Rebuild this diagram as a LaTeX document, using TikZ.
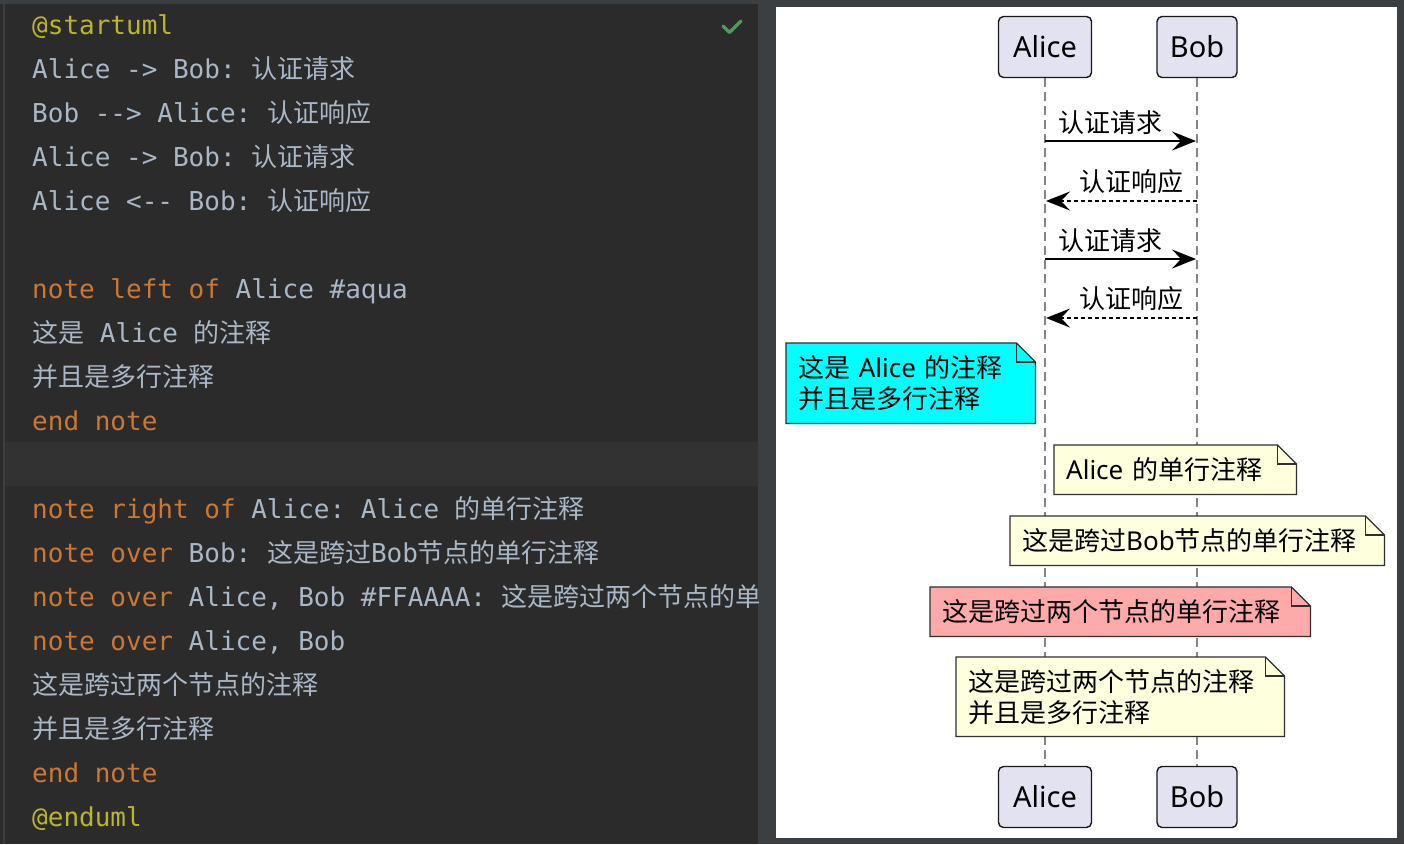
\documentclass[tikz,border=0pt]{standalone}
\usepackage{fontspec}
\newfontfamily\cjk{Noto Sans CJK SC}
\newfontfamily\dgfont{Noto Sans}
\newfontfamily\codefont{DejaVu Sans Mono}[Ligatures=TeXOff]
\usetikzlibrary{arrows.meta,backgrounds}
\definecolor{editorbg}{HTML}{2B2B2B}
\definecolor{panelgray}{HTML}{3C3F41}
\definecolor{curline}{HTML}{323232}
\definecolor{codefg}{HTML}{A9B7C6}
\definecolor{keyword}{HTML}{CC7832}
\definecolor{annot}{HTML}{BBB529}
\definecolor{okgreen}{HTML}{499C54}
\definecolor{partfill}{HTML}{E2E2F0}
\definecolor{partline}{HTML}{181818}
\definecolor{notefill}{HTML}{FEFFDD}
\definecolor{aqua}{HTML}{00FFFF}
\definecolor{salmon}{HTML}{FFAAAA}
\definecolor{lifegray}{HTML}{858585}
\newcommand\cj[1]{{\cjk #1}}
\newcommand\kw[1]{\textcolor{keyword}{#1}}
\newcommand\an[1]{\textcolor{annot}{#1}}
% dog-eared note outline behind a note node
\newcommand\notebg[2]{%
  \filldraw[notebd, fill=#2] (#1.south west) -- (#1.north west) -- ([xshift=-19pt]#1.north east)
    -- ([yshift=-19pt]#1.north east) -- (#1.south east) -- cycle;
  \draw[notebd] ([xshift=-19pt]#1.north east) |- ([yshift=-19pt]#1.north east);}
\tikzset{
  code/.style={anchor=base west, inner sep=0pt, text=codefg, font=\codefont\fontsize{26}{30}\selectfont},
  part/.style={draw=partline, fill=partfill, line width=1.4pt, rounded corners=5pt, minimum height=61pt,
    font=\dgfont\fontsize{29}{33}\selectfont},
  lifeline/.style={draw=lifegray, line width=1.7pt, dash pattern=on 9pt off 5pt},
  msg/.style={line width=2pt, shorten >=1pt, -{Stealth[length=24pt,width=19pt,inset=9pt]}},
  reply/.style={msg, dash pattern=on 4pt off 3pt},
  lbl/.style={font=\dgfont\fontsize{26}{31}\selectfont, inner sep=0pt},
  note/.style={anchor=north west, inner xsep=12pt, inner ysep=0pt, align=left,
    font=\dgfont\fontsize{26}{31}\selectfont},
  notebd/.style={draw=partline!90!white, line width=1.2pt},
}
\frenchspacing
\begin{document}
\begin{tikzpicture}[x=1pt, y=-1pt, line join=round]
\useasboundingbox (0,0) rectangle (1404,844);
% editor
\begin{scope}
  \clip (0,0) rectangle (758,844);
  \foreach \k/\t in {0/{\an{@startuml}},
      1/{Alice -> Bob: \cj{认证请求}},
      2/{Bob --> Alice: \cj{认证响应}},
      3/{Alice -> Bob: \cj{认证请求}},
      4/{Alice <-- Bob: \cj{认证响应}},
      6/{\kw{note left of} Alice \#aqua},
      7/{\cj{这是} Alice \cj{的注释}},
      8/{\cj{并且是多行注释}},
      9/{\kw{end note}},
      11/{\kw{note right of} Alice: Alice \cj{的单行注释}},
      12/{\kw{note over} Bob: \cj{这是跨过}Bob\cj{节点的单行注释}},
      13/{\kw{note over} Alice, Bob \#FFAAAA: \cj{这是跨过两个节点的单}},
      14/{\kw{note over} Alice, Bob},
      15/{\cj{这是跨过两个节点的注释}},
      16/{\cj{并且是多行注释}},
      17/{\kw{end note}},
      18/{\an{@enduml}}}
    \node[code] (line\k) at (32,{34+44*\k}) {\t};
\end{scope}
\draw[okgreen, line width=3.5pt, line cap=round] (723,26) -- (729.5,32.5) -- (741,21);

% participants
\node[part, minimum width=93pt] (aliceT) at (1045,47) {Alice};
\node[part, minimum width=80pt] (bobT) at (1197,47) {Bob};
\node[part, minimum width=93pt] (aliceB) at (1045,797) {Alice};
\node[part, minimum width=80pt] (bobB) at (1197,797) {Bob};

% messages
\draw[msg] (aliceT |- 0,141) -- (bobT |- 0,141) node[lbl, pos=.43, yshift=18pt] (m1) {\cj{认证请求}};
\draw[reply] (bobT |- 0,201) -- (aliceT |- 0,201) node[lbl, pos=.43, yshift=19pt] (m2) {\cj{认证响应}};
\draw[msg] (aliceT |- 0,259) -- (bobT |- 0,259) node[lbl, pos=.43, yshift=18pt] (m3) {\cj{认证请求}};
\draw[reply] (bobT |- 0,318) -- (aliceT |- 0,318) node[lbl, pos=.43, yshift=19pt] (m4) {\cj{认证响应}};

% notes
\node[note, text width=225pt, minimum height=80pt] (nAqua) at (786,343)
  {\cj{这是} Alice \cj{的注释}\\\cj{并且是多行注释}};
\node[note, text width=218pt, minimum height=49pt] (nRight) at (1054,445) {Alice \cj{的单行注释}};
\node[note, text width=350pt, minimum height=49pt] (nBob) at (1010,516) {\cj{这是跨过}Bob\cj{节点的单行注释}};
\node[note, text width=356pt, minimum height=49pt] (nPair) at (930,587) {\cj{这是跨过两个节点的单行注释}};
\node[note, text width=304pt, minimum height=79pt] (nMulti) at (956,657)
  {\cj{这是跨过两个节点的注释}\\\cj{并且是多行注释}};

\begin{scope}[on background layer]
  \fill[panelgray] (0,0) rectangle (1404,844);
  \fill[editorbg] (0,4) rectangle (758,844);
  \fill[curline] (5,442) rectangle (758,486);
  \draw[panelgray, line width=1.5pt] (4,4) -- (4,844);
  \fill[white] (776,7) rectangle (1397,838);
  \draw[lifeline] (aliceT) -- (aliceB);
  \draw[lifeline] (bobT) -- (bobB);
  \foreach \n/\c in {nAqua/aqua, nRight/notefill, nBob/notefill, nPair/salmon, nMulti/notefill}
    {\notebg{\n}{\c}}
\end{scope}
\end{tikzpicture}
\end{document}
